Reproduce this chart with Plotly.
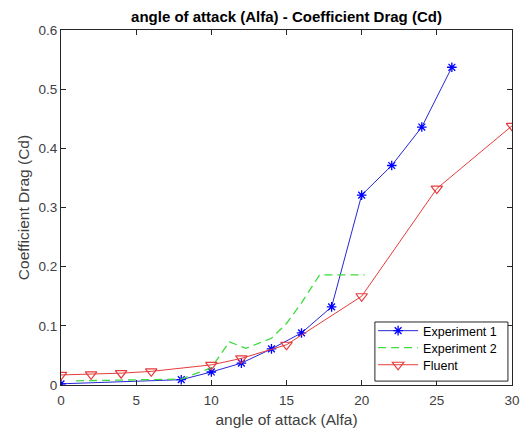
import plotly.graph_objects as go

# Experiment 1: wind-tunnel measurements
exp1_alpha = [0, 8, 10, 12, 14, 16, 18, 20, 22, 24, 26]
exp1_cd = [0.002, 0.009, 0.022, 0.037, 0.061, 0.088, 0.132, 0.321, 0.371, 0.436, 0.537]

# Experiment 2: second measurement run
exp2_alpha = [1, 8, 10, 11.2, 12.3, 14, 15, 16, 17.2, 20.2]
exp2_cd = [0.007, 0.010, 0.029, 0.073, 0.062, 0.079, 0.104, 0.139, 0.186, 0.186]

# Fluent CFD simulation
fluent_alpha = [0, 2, 4, 6, 10, 12, 15, 20, 25, 30]
fluent_cd = [0.017, 0.018, 0.020, 0.023, 0.034, 0.045, 0.068, 0.150, 0.332, 0.438]

x_ticks = [0, 5, 10, 15, 20, 25, 30]
y_ticks = [0, 0.1, 0.2, 0.3, 0.4, 0.5, 0.6]
y_tick_text = ["0", "0.1", "0.2", "0.3", "0.4", "0.5", "0.6"]

FONT = "Liberation Sans, Arial, sans-serif"
AXIS_COLOR = "#262626"
TEXT_COLOR = "#404040"

fig = go.Figure()
fig.add_trace(go.Scatter(
    x=exp1_alpha, y=exp1_cd, name="Experiment 1", mode="lines+markers",
    line=dict(color="#2626d9", width=1),
    marker=dict(symbol="asterisk-open", size=8, color="#0000ff",
                line=dict(color="#0000ff", width=1.3)),
    legend="legend",
))
fig.add_trace(go.Scatter(
    x=exp2_alpha, y=exp2_cd, name="Experiment 2", mode="lines",
    line=dict(color="#3ddc3d", width=1.3, dash="8px,5px"),
    legend="legend2",
))
fig.add_trace(go.Scatter(
    x=fluent_alpha, y=fluent_cd, name="Fluent", mode="lines+markers",
    line=dict(color="#e63c3c", width=1),
    marker=dict(symbol="triangle-down-open", size=10, color="#e63c3c",
                line=dict(color="#e63c3c", width=1.2)),
    legend="legend3",
))

axis_common = dict(
    showgrid=False, zeroline=False, showline=True, linecolor=AXIS_COLOR,
    linewidth=1, mirror="allticks", ticks="inside", ticklen=5,
    tickcolor=AXIS_COLOR, automargin=False,
    tickfont=dict(family=FONT, size=13.5, color=TEXT_COLOR),
)

# legend frame (boxed legend in the lower-right corner of the axes)
fig.add_shape(type="rect", xref="paper", yref="paper",
              x0=0.696, x1=0.991, y0=0.011, y1=0.1775,
              line=dict(color=AXIS_COLOR, width=1), fillcolor="white",
              layer="above")

# one legend per series, stacked with tight row spacing inside the frame
def legend_row(y):
    return dict(x=0.692, y=y, xanchor="left", yanchor="middle",
                bgcolor="rgba(0,0,0,0)", borderwidth=0,
                font=dict(family=FONT, size=12.5, color="black"),
                itemwidth=40)

fig.update_layout(
    width=524, height=429,
    margin=dict(l=61, r=12, t=30, b=44, autoexpand=False),
    paper_bgcolor="white", plot_bgcolor="white",
    title=dict(text="<b>angle of attack (Alfa) - Coefficient Drag (Cd)</b>",
               x=286.5 / 524, xanchor="center", y=1 - 17 / 429,
               yanchor="middle", font=dict(family=FONT, size=15, color="black")),
    xaxis=dict(range=[0, 30], tickvals=x_ticks, ticklabelstandoff=3,
               title=dict(text="angle of attack (Alfa)", standoff=6,
                          font=dict(family=FONT, size=15.5, color=TEXT_COLOR)),
               **axis_common),
    yaxis=dict(range=[0, 0.6], tickvals=y_ticks, ticktext=y_tick_text,
               title=dict(text="Coefficient Drag (Cd)", standoff=5,
                          font=dict(family=FONT, size=15.5, color=TEXT_COLOR)),
               **axis_common),
    legend=legend_row(0.152),
    legend2=legend_row(0.104),
    legend3=legend_row(0.056),
    showlegend=True,
)

fig.write_html("out.html")
